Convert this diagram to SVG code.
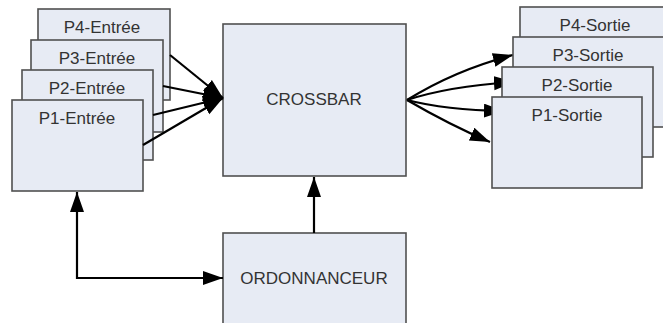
<svg xmlns="http://www.w3.org/2000/svg" width="663" height="323" viewBox="0 0 663 323">
<defs>
<style>
.box{fill:#e7ebf4;stroke:#505050;stroke-width:1.6}
.lbl{font-family:"Liberation Sans",Arial,sans-serif;font-size:17px;fill:#333;text-anchor:middle}
.ln{fill:none;stroke:#000;stroke-width:2.2}
</style>
<marker id="ah" markerUnits="userSpaceOnUse" markerWidth="22" markerHeight="15" refX="20" refY="7" orient="auto" viewBox="0 0 22 15">
<path d="M0,0 L20,7 L0,14 z" fill="#000"/>
</marker>
<marker id="ahs" markerUnits="userSpaceOnUse" markerWidth="22" markerHeight="15" refX="20" refY="7" orient="auto-start-reverse" viewBox="0 0 22 15">
<path d="M0,0 L20,7 L0,14 z" fill="#000"/>
</marker>
</defs>
<rect width="663" height="323" fill="#fff"/>
<g id="in-p4"><rect class="box" x="38" y="9" width="132" height="91"/><text class="lbl" x="102" y="33">P4-Entrée</text></g>
<g id="in-p3"><rect class="box" x="31" y="40" width="132" height="92"/><text class="lbl" x="97" y="64">P3-Entrée</text></g>
<g id="in-p2"><rect class="box" x="22" y="70" width="131" height="90"/><text class="lbl" x="87" y="94">P2-Entrée</text></g>
<g id="in-p1"><rect class="box" x="12" y="100" width="131" height="91"/><text class="lbl" x="77" y="124">P1-Entrée</text></g>
<g id="crossbar"><rect class="box" x="223" y="24" width="183" height="152"/><text class="lbl" x="314" y="105">CROSSBAR</text></g>
<g id="ordonnanceur"><rect class="box" x="223" y="233" width="183" height="100"/><text class="lbl" x="314" y="284">ORDONNANCEUR</text></g>
<g id="connectors">
<line class="ln" x1="170" y1="55" x2="223" y2="98" marker-end="url(#ah)"/>
<line class="ln" x1="163" y1="86" x2="223" y2="98" marker-end="url(#ah)"/>
<line class="ln" x1="153" y1="115" x2="223" y2="98" marker-end="url(#ah)"/>
<line class="ln" x1="143" y1="145" x2="223" y2="98" marker-end="url(#ah)"/>
<path class="ln" d="M407,100 Q455,70 513,55" marker-end="url(#ah)"/>
<path class="ln" d="M407,100 Q450,86 514,82" marker-end="url(#ah)"/>
<path class="ln" d="M407,100 Q445,110 504,111" marker-end="url(#ah)"/>
<path class="ln" d="M407,100 Q450,125 490,142" marker-end="url(#ah)"/>
<line class="ln" x1="314" y1="233" x2="314" y2="177" marker-end="url(#ah)"/>
<path class="ln" d="M77,192 L77,278 L223,278" marker-start="url(#ahs)" marker-end="url(#ah)"/>
</g>
<g id="out-p4"><rect class="box" x="520" y="7" width="160" height="90"/><text class="lbl" x="595" y="31">P4-Sortie</text></g>
<g id="out-p3"><rect class="box" x="513" y="37" width="160" height="90"/><text class="lbl" x="588" y="61">P3-Sortie</text></g>
<g id="out-p2"><rect class="box" x="502" y="67" width="151" height="90"/><text class="lbl" x="577" y="91">P2-Sortie</text></g>
<g id="out-p1"><rect class="box" x="492" y="97" width="150" height="91"/><text class="lbl" x="567" y="121">P1-Sortie</text></g>
</svg>
